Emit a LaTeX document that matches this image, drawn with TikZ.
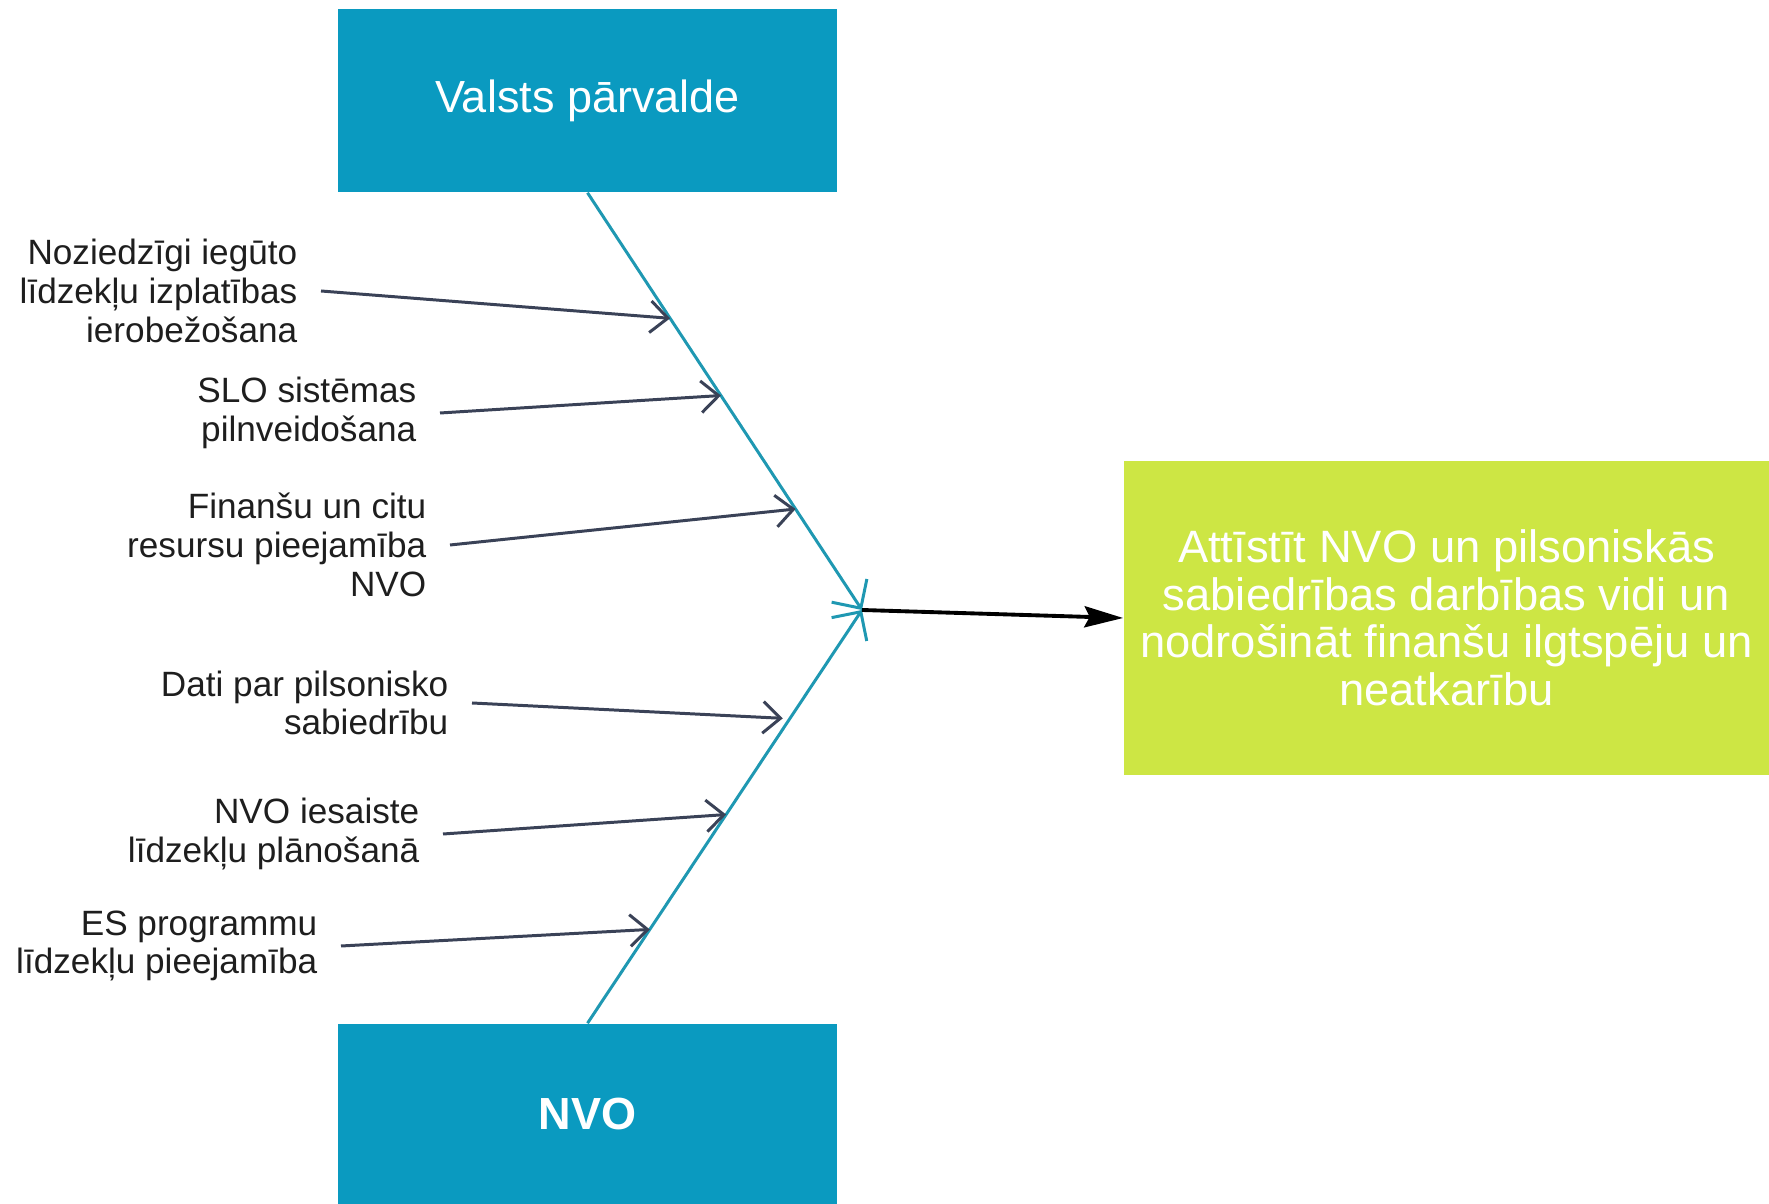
\documentclass[tikz,border=0pt]{standalone}
\usepackage{fontspec}
\setmainfont{Liberation Sans}
\usetikzlibrary{arrows.meta,calc}
\definecolor{boxblue}{HTML}{0A9AC0}
\definecolor{spine}{HTML}{1F98B2}
\definecolor{goalgreen}{HTML}{CDE644}
\definecolor{branchgray}{HTML}{3A4257}
\definecolor{labeltext}{HTML}{1E1E1E}

\begin{document}
\begin{tikzpicture}[x=0.01cm,y=-0.01cm,
    actor/.style={fill=boxblue,text=white,minimum width=4.99cm,inner sep=0pt,font=\fontsize{12.8}{14}\selectfont},
    cause/.style={align=right,anchor=east,inner xsep=0.23cm,inner ysep=0pt,text=labeltext,font=\fontsize{10}{11}\selectfont},
    bone/.style={spine,line width=0.85pt,-{Straight Barb[length=6pt,width=12pt]}},
    branch/.style={branchgray,line width=0.85pt,-{Straight Barb[length=5pt,width=9pt]}}]
    \useasboundingbox (0,0) rectangle (1769,1204);
    % the two sides and the goal
    \node[actor,minimum height=1.83cm] (top) at (587.5,100.5) {Valsts pārvalde};
    \node[actor,minimum height=1.8cm,font=\bfseries\fontsize{12.8}{14}\selectfont] (bot) at (587.5,1114) {NVO};
    \node[fill=goalgreen,text=white,minimum width=6.45cm,minimum height=3.14cm,inner sep=0pt,align=center,
        font=\fontsize{12.9}{13.5}\selectfont] (goal) at (1446.5,618)
        {Attīstīt NVO un pilsoniskās\\sabiedrības darbības vidi un\\nodrošināt finanšu ilgtspēju un\\neatkarību};
    \coordinate (jn) at (862,610);
    \draw[bone] (top.south) -- (jn);
    \draw[bone] (bot.north) -- (jn);
    \draw[line width=1.1pt,-{Stealth[length=11pt,width=6pt,inset=1.5pt]}] (jn) -- (goal.west);
    % causes
    \node[cause] (c1) at (321,291) {Noziedzīgi iegūto\\līdzekļu izplatības\\ierobežošana};
    \node[cause] (c2) at (440,413) {SLO sistēmas\\pilnveidošana};
    \node[cause] (c3) at (450,545) {Finanšu un citu\\resursu pieejamība\\NVO};
    \node[cause] (c4) at (472,703) {Dati par pilsonisko\\sabiedrību};
    \node[cause] (c5) at (443,834) {NVO iesaiste\\līdzekļu plānošanā};
    \node[cause] (c6) at (341,946) {ES programmu\\līdzekļu pieejamība};
    \foreach \c/\t in {c1/0.301,c2/0.486,c3/0.758}
        \draw[branch] (\c.east) -- ($(top.south)!\t!(jn)$);
    \foreach \c/\t in {c5/0.505,c6/0.227}
        \draw[branch] (\c.east) -- ($(bot.north)!\t!(jn)$);
    \draw[branch,shorten >=2pt] (c4.east) -- ($(bot.north)!0.737!(jn)$);
\end{tikzpicture}
\end{document}
